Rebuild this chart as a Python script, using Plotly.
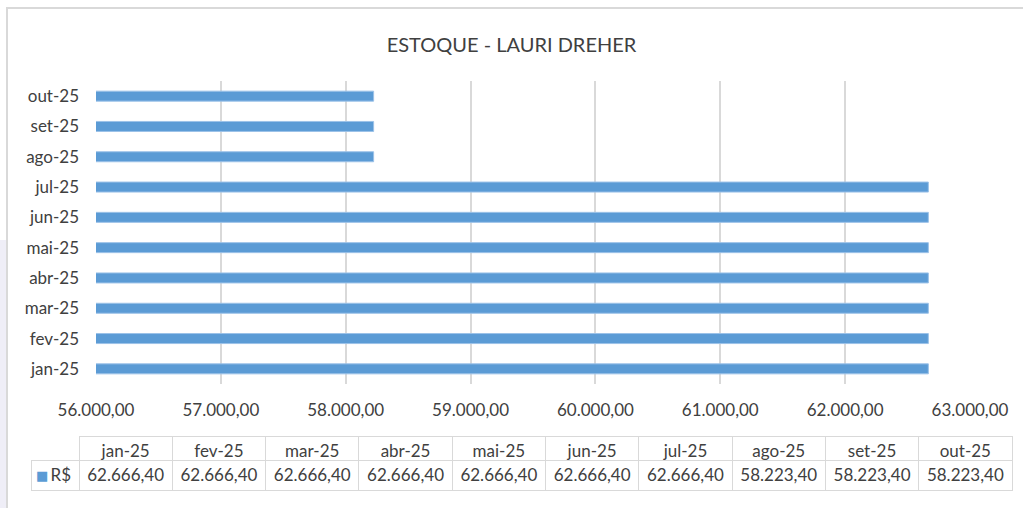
import plotly.graph_objects as go

meses = ["jan-25", "fev-25", "mar-25", "abr-25", "mai-25", "jun-25",
         "jul-25", "ago-25", "set-25", "out-25"]
valores = [62666.40, 62666.40, 62666.40, 62666.40, 62666.40, 62666.40,
           62666.40, 58223.40, 58223.40, 58223.40]
ticks_x = [56000, 57000, 58000, 59000, 60000, 61000, 62000, 63000]
serie = "R$"

W, H = 1023, 508
AZUL = "#5b9bd5"
CINZA = "#d9d9d9"
TEXTO = "#404040"
FONTE = "Lato"


def px_x(p):
    return p / W


def px_y(p):
    # pixel a partir do topo -> coordenada paper
    return 1 - p / H


def fmt_br(v):
    # 62666.4 -> 62.666,40
    s = f"{v:,.2f}"
    return s.replace(",", "X").replace(".", ",").replace("X", ".")


fig = go.Figure()

fig.add_trace(go.Bar(
    x=valores,
    y=meses,
    orientation="h",
    marker=dict(color=AZUL, line=dict(color="#9cc2e8", width=1)),
    name=serie,
    hovertemplate="%{y}: R$ %{x:,.2f}<extra></extra>",
))

# tabela de dados abaixo do grafico (estilo Excel)
col_w = [48] + [93.3] * len(meses)
fig.add_trace(go.Table(
    domain=dict(x=[px_x(31), px_x(1012)], y=[px_y(500), px_y(436)]),
    columnwidth=col_w,
    header=dict(
        values=[""] + meses,
        height=24,
        align="center",
        fill=dict(color="white"),
        line=dict(color=["rgba(0,0,0,0)"] + [CINZA] * len(meses), width=1),
        font=dict(family=FONTE, size=17, color=TEXTO),
    ),
    cells=dict(
        values=[[serie]] + [[fmt_br(v)] for v in valores],
        height=30,
        align=["right"] + ["center"] * len(meses),
        fill=dict(color="white"),
        line=dict(color=CINZA, width=1),
        font=dict(family=FONTE, size=17, color=TEXTO),
    ),
))

# chave da legenda na tabela
fig.add_annotation(text="■", xref="paper", yref="paper",
                   x=px_x(42), y=px_y(475), xanchor="center", yanchor="middle",
                   showarrow=False, font=dict(family="DejaVu Sans", size=13, color=AZUL))

# faixa lateral e borda da area do grafico
fig.add_shape(type="rect", xref="paper", yref="paper",
              x0=px_x(0), x1=px_x(6), y0=px_y(508), y1=px_y(240),
              fillcolor="#efeef7", line=dict(width=0), layer="below")
fig.add_shape(type="rect", xref="paper", yref="paper",
              x0=px_x(7), x1=px_x(1040), y0=px_y(530), y1=px_y(8),
              line=dict(color=CINZA, width=2), fillcolor="rgba(0,0,0,0)")

fig.update_layout(
    width=W, height=H,
    margin=dict(l=0, r=0, t=0, b=0, autoexpand=False),
    paper_bgcolor="white",
    plot_bgcolor="white",
    separators=",.",
    showlegend=False,
    bargap=0.67,
    font=dict(family=FONTE, size=17, color=TEXTO),
    title=dict(text="ESTOQUE - LAURI DREHER", x=0.5, xref="paper",
               y=px_y(45), yanchor="middle",
               font=dict(family=FONTE, size=20, color=TEXTO)),
    xaxis=dict(
        domain=[px_x(96), px_x(970)],
        range=[56000, 63000],
        tickvals=ticks_x,
        tickformat=",.2f",
        showgrid=True, gridcolor=CINZA, gridwidth=2,
        zeroline=False, showline=False,
        ticks="", ticklabelstandoff=14, automargin=False,
        tickfont=dict(family=FONTE, size=17, color=TEXTO),
        fixedrange=True,
    ),
    yaxis=dict(
        domain=[px_y(384), px_y(81)],
        categoryorder="array", categoryarray=meses,
        showgrid=False, zeroline=False,
        showline=False,
        ticks="", ticklabelstandoff=16, automargin=False,
        tickfont=dict(family=FONTE, size=17, color=TEXTO),
        fixedrange=True,
    ),
)

fig.write_html("out.html", config={"displayModeBar": False},
               post_script="document.body.style.margin='0';")
